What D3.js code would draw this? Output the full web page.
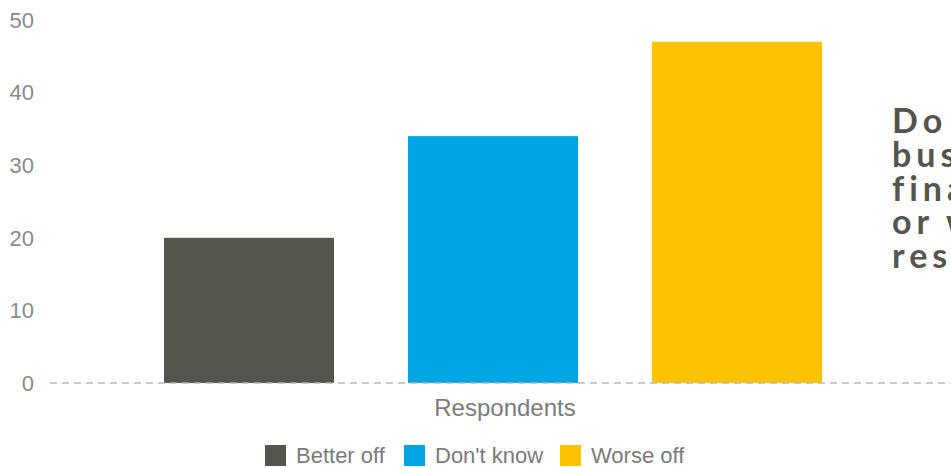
<!DOCTYPE html>
<html><head><meta charset="utf-8">
<script src="https://cdn.jsdelivr.net/npm/d3@7"></script>
<style>body{margin:0;background:#fff;overflow:hidden}</style>
</head><body>
<svg id="c" width="951" height="468"></svg>
<script>
const categories = ["Better off", "Don't know", "Worse off"];
const values = [20, 34, 47];
const colors = ["#56554d", "#00a5e3", "#fdc300"];
const yTicks = [0, 10, 20, 30, 40, 50];
const axisTitle = "Respondents";
const titleLines = ["Do you think your", "business will be", "financially better", "or worse off as a", "result?"];

const svg = d3.select("#c");
const y = d3.scaleLinear().domain([0, 50]).range([383, 20]);
const x = d3.scaleBand().domain(categories).range([42, 944]).paddingInner(0.3033).paddingOuter(0.5);
const sans = "'Liberation Sans', Arial, sans-serif";

// y tick labels
svg.append("g").selectAll("text").data(yTicks).join("text")
  .attr("x", 34).attr("y", d => y(d)).attr("dy", "0.35em")
  .attr("text-anchor", "end")
  .style("font-family", sans)
  .style("font-size", "22px").style("fill", "#8a8a8a")
  .text(d => d);

// bars
svg.append("g").selectAll("rect").data(values).join("rect")
  .attr("x", (d, i) => x(categories[i]))
  .attr("width", x.bandwidth())
  .attr("y", d => y(d))
  .attr("height", d => y(0) - y(d))
  .attr("fill", (d, i) => colors[i]);

// dashed baseline
svg.append("line")
  .attr("x1", 50).attr("x2", 951).attr("y1", y(0)).attr("y2", y(0))
  .attr("stroke", "#b8b8b8").attr("stroke-width", 1.5)
  .attr("stroke-dasharray", "7,5");

// axis title
svg.append("text").attr("x", 505).attr("y", 416)
  .attr("text-anchor", "middle")
  .style("font-family", sans)
  .style("font-size", "24px").style("fill", "#7a7a7a")
  .text(axisTitle);

// legend
const legendX = [265, 404, 560];
const lg = svg.append("g").selectAll("g").data(categories).join("g")
  .attr("transform", (d, i) => `translate(${legendX[i]},445)`);
lg.append("rect").attr("width", 21).attr("height", 21).attr("fill", (d, i) => colors[i]);
lg.append("text").attr("x", 31).attr("y", 18)
  .style("font-family", sans)
  .style("font-size", "22px").style("fill", "#7a7a7a")
  .text(d => d);

// side title (runs off the right edge as in the reference)
svg.append("g").selectAll("text").data(titleLines).join("text")
  .attr("x", 892).attr("y", (d, i) => 133 + i * 33.8)
  .style("font-family", "Lato, 'Open Sans', sans-serif")
  .style("font-weight", "bold").style("font-size", "34px")
  .style("letter-spacing", "5px").style("fill", "#55554d")
  .text(d => d);
</script>
</body></html>
